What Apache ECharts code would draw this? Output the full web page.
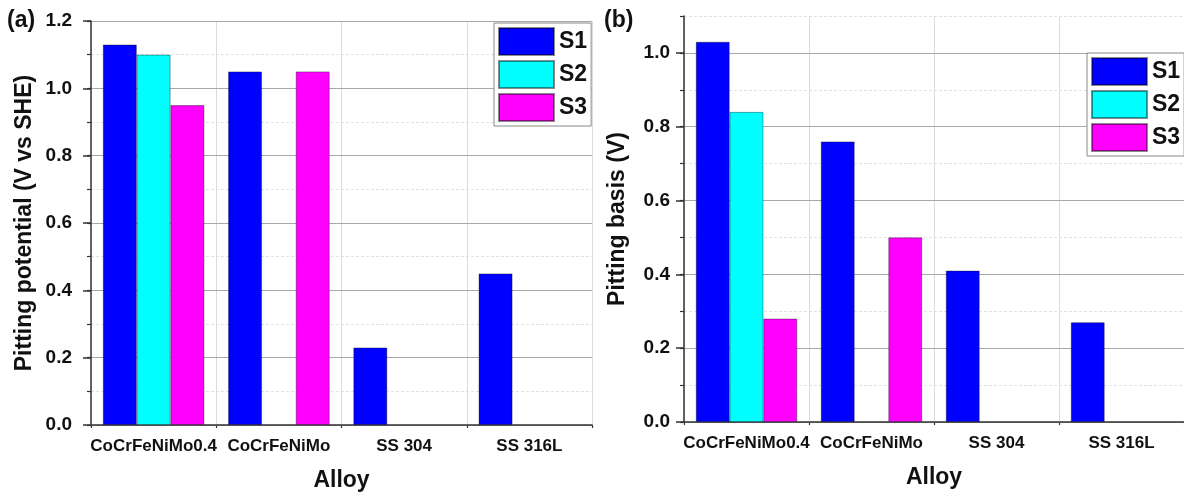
<!DOCTYPE html>
<html>
<head>
<meta charset="utf-8">
<script src="https://cdn.jsdelivr.net/npm/echarts@6/dist/echarts.min.js"></script>
<style>
  html, body { margin: 0; padding: 0; background: #fff; }
  #chart { width: 1184px; height: 497px; }
</style>
</head>
<body>
<div id="chart"></div>
<script>
const categories = ['CoCrFeNiMo0.4', 'CoCrFeNiMo', 'SS 304', 'SS 316L'];
const seriesNames = ['S1', 'S2', 'S3'];
const seriesColors = ['#0000ff', '#00ffff', '#ff00ff'];

// (a) pitting potential, V vs SHE
const potentialS1 = [1.13, 1.05, 0.23, 0.45];
const potentialS2 = [1.10, null, null, null];
const potentialS3 = [0.95, 1.05, null, null];

// (b) pitting basis, V
const basisS1 = [1.03, 0.76, 0.41, 0.27];
const basisS2 = [0.84, null, null, null];
const basisS3 = [0.28, 0.50, null, null];

const ticksA = [0, 0.2, 0.4, 0.6, 0.8, 1.0, 1.2];
const ticksB = [0, 0.2, 0.4, 0.6, 0.8, 1.0];

const FONT = '"Liberation Sans", Arial, sans-serif';
const AXIS_COLOR = '#333';

const chart = echarts.init(document.getElementById('chart'));

function yAxes(gridIndex, max, ticks, name, margin) {
    return [
        {
            type: 'value', gridIndex: gridIndex, position: 'left', min: 0, max: max, interval: 0.2,
            name: name, nameLocation: 'middle', nameGap: 55,
            nameTextStyle: { fontFamily: FONT, fontWeight: 'bold', fontSize: 23, color: '#111' },
            axisLine: { show: true, lineStyle: { color: AXIS_COLOR, width: 1.5 } },
            axisTick: { show: true, length: 8, customValues: ticks, lineStyle: { color: AXIS_COLOR, width: 1.5 } },
            axisLabel: {
                customValues: ticks,
                margin: margin, fontFamily: FONT, fontWeight: 'bold', fontSize: 19, color: '#111',
                formatter: v => v.toFixed(1)
            },
            splitLine: { show: true, lineStyle: { color: '#a8a8a8', width: 1 } },
            z: 3
        },
        {
            // minor ticks every 0.1
            type: 'value', gridIndex: gridIndex, position: 'left', min: 0, max: max, interval: 0.1,
            axisLine: { show: false },
            axisTick: { show: true, length: 4, lineStyle: { color: AXIS_COLOR, width: 1.2 } },
            axisLabel: { show: false },
            splitLine: { show: true, lineStyle: { color: '#e2e2e2', width: 1, type: [3, 2] } },
            z: 2
        }
    ];
}

function xAxes(gridIndex) {
    return [
        {
            type: 'category', gridIndex: gridIndex, data: categories,
            name: 'Alloy', nameLocation: 'middle', nameGap: 44,
            nameTextStyle: { fontFamily: FONT, fontWeight: 'bold', fontSize: 23, color: '#111' },
            axisLine: { lineStyle: { color: AXIS_COLOR, width: 1.5 } },
            axisTick: { alignWithLabel: true, interval: 0, length: 6, lineStyle: { color: AXIS_COLOR, width: 1.5 } },
            axisLabel: { interval: 0, margin: 13, fontFamily: FONT, fontWeight: 'bold', fontSize: 17, color: '#111' },
            splitLine: { show: false },
            z: 3
        },
        {
            // category boundaries
            type: 'value', gridIndex: gridIndex, min: 0, max: categories.length, interval: 1,
            position: 'bottom',
            axisLine: { show: false },
            axisTick: { show: true, length: 3, lineStyle: { color: AXIS_COLOR, width: 1.2 } },
            axisLabel: { show: false },
            splitLine: { show: true, lineStyle: { color: '#dcdcdc', width: 1 } },
            z: 2
        }
    ];
}

function barSeries(gridIndex, datasets) {
    return datasets.map((data, i) => ({
        name: seriesNames[i],
        type: 'bar',
        xAxisIndex: gridIndex * 2,
        yAxisIndex: gridIndex * 2,
        data: data,
        barGap: '0%',
        barCategoryGap: '19%',
        itemStyle: { color: seriesColors[i], borderColor: 'rgba(0,0,0,0.45)', borderWidth: 0.8 },
        z: 4
    }));
}

function legend(left, top) {
    return {
        data: seriesNames,
        orient: 'vertical',
        left: left, top: top,
        icon: 'rect',
        itemWidth: 55, itemHeight: 27, itemGap: 4,
        padding: 4,
        backgroundColor: '#fff',
        borderColor: '#888', borderWidth: 1,
        textStyle: { fontFamily: FONT, fontWeight: 'bold', fontSize: 23, color: '#111' },
        selectedMode: false
    };
}

const option = {
    animation: false,
    backgroundColor: '#fff',
    grid: [
        { left: 91, top: 21, right: 592, bottom: 70 },
        { left: 684, top: 16, right: -2, bottom: 75 }
    ],
    xAxis: [...xAxes(0), ...xAxes(1)],
    yAxis: [
        ...yAxes(0, 1.2, ticksA, 'Pitting potential (V vs SHE)', 19),
        ...yAxes(1, 1.1, ticksB, 'Pitting basis (V)', 14)
    ],
    legend: [legend(494, 23), legend(1087, 53)],
    graphic: [
        { type: 'text', left: 7, top: 9, style: { text: '(a)', fontFamily: FONT, fontWeight: 'bold', fontSize: 23, fill: '#111' } },
        { type: 'text', left: 604, top: 9, style: { text: '(b)', fontFamily: FONT, fontWeight: 'bold', fontSize: 23, fill: '#111' } }
    ],
    series: [
        ...barSeries(0, [potentialS1, potentialS2, potentialS3]),
        ...barSeries(1, [basisS1, basisS2, basisS3])
    ]
};

chart.setOption(option);
</script>
</body>
</html>
